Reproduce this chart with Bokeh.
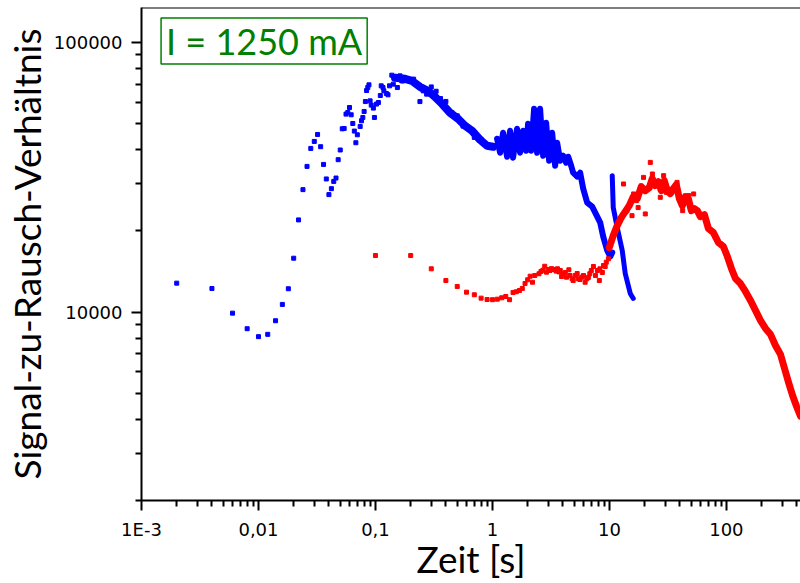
from bokeh.plotting import figure
from bokeh.models import FixedTicker, Span, Label
from bokeh.embed import file_html
from bokeh.resources import INLINE

# ---------------- data (time in s, signal-to-noise ratio) ----------------
# blue series: individual points (early, sparse part)
blue_pts_t = [0.002, 0.004, 0.006, 0.008, 0.010, 0.012, 0.014, 0.016, 0.018, 0.020,
              0.022, 0.024, 0.026, 0.028, 0.030, 0.032, 0.034, 0.036, 0.038, 0.040,
              0.042, 0.044, 0.046, 0.048, 0.050, 0.052, 0.054, 0.056, 0.058, 0.060,
              0.062, 0.064, 0.066, 0.068, 0.070, 0.074, 0.076, 0.078, 0.080, 0.082,
              0.084, 0.086, 0.088, 0.090, 0.092, 0.096, 0.098, 0.102, 0.106, 0.110,
              0.112, 0.116, 0.118, 0.124, 0.128, 0.132, 0.138, 0.142, 0.148, 0.154,
              0.162, 0.168, 0.172, 0.184, 0.196, 0.212, 0.226, 0.240, 0.256, 0.274,
              0.30, 0.33, 0.36, 0.40, 0.45, 0.50, 0.56, 0.62, 0.70, 0.80]
blue_pts_snr = [12810, 12240, 9915, 8680, 8110, 8270, 9290, 10680, 12210, 15850,
                21990, 28480, 34730, 40500, 42990, 45630, 41100, 35320, 31200, 27290,
                28710, 30560, 31450, 36780, 39960, 47880, 48030, 54300, 55050, 57440,
                53980, 50120, 46970, 42510, 45500, 48860, 51290, 52760, 55520, 60440,
                66420, 68130, 69720, 60800, 58630, 57150, 52760, 59140, 59950, 63630,
                69130, 68130, 66250, 64750, 64020, 69130, 75720, 70140, 74820, 68130,
                75280, 72140, 72140, 73190, 72140, 73190, 70140, 60440, 66250, 64400,
                68500, 66000, 62000, 60500, 55000, 53500, 49000, 48500, 44500, 43800]

# blue series: dense part (0.15 s .. 1 s)
blue_band_t = [0.147, 0.179, 0.205, 0.240, 0.281, 0.323, 0.370, 0.434, 0.508,
               0.583, 0.669, 0.783, 0.899, 1.012]
blue_band_snr = [74020, 73390, 72140, 68550, 66250, 62930, 59290, 54910, 52170,
                 49150, 47100, 43610, 41440, 41090]

# blue series: dense oscillating part (1 s .. 10.6 s), upper/lower excursions
blue_osc_t = [1.095, 1.162, 1.233, 1.334, 1.415, 1.501, 1.624, 1.723, 1.828, 1.940,
              2.017, 2.141, 2.271, 2.409, 2.556, 2.713, 2.878, 3.053, 3.239, 3.436,
              3.575, 3.793, 4.024, 4.268, 4.440, 4.710, 4.899, 5.302, 5.623, 5.967,
              6.455, 7.124, 7.864, 8.342, 8.850, 9.576, 10.16, 10.57]
blue_osc_snr = [43990, 39040, 46300, 37730, 47100, 37410, 47910, 39040, 47100, 39710,
                49990, 39710, 56800, 39040, 56800, 38050, 50420, 36470, 46300, 34940,
                42510, 36470, 38050, 35840, 37730, 34940, 32910, 31810, 32910, 28720,
                25490, 24640, 22620, 21490, 19070, 16930, 16080, 16640]

# blue series: second branch (10.6 s .. 16 s)
blue_tail_t = [10.57, 10.78, 11.66, 12.87, 13.65, 15.07, 15.99]
blue_tail_snr = [32090, 24430, 20590, 16930, 13910, 11730, 11240]

# red series: individual points (0.1 s .. 10 s)
red_pts_t = [0.1, 0.2, 0.3, 0.4, 0.5, 0.6, 0.7, 0.8, 0.9, 1.0,
             1.1, 1.2, 1.3, 1.4, 1.5, 1.6, 1.7, 1.8, 1.9, 2.0,
             2.1, 2.2, 2.3, 2.5, 2.6, 2.7, 2.8, 2.9, 3.0, 3.1,
             3.2, 3.3, 3.4, 3.5, 3.6, 3.7, 3.8, 3.9, 4.0, 4.2,
             4.3, 4.5, 4.6, 4.8, 4.9, 5.1, 5.3, 5.4, 5.6, 5.8,
             6.0, 6.2, 6.4, 6.6, 6.8, 7.0, 7.3, 7.6, 7.9, 8.2,
             8.3, 8.7, 8.9, 9.2, 9.4, 9.8]
red_pts_snr = [16220, 16220, 14480, 13100, 12450, 11860, 11600, 11270, 11140, 11120,
               11170, 11300, 11430, 11120, 11830, 11900, 12030, 12240, 12770, 13180,
               13590, 12910, 13670, 13880, 14150, 14300, 14800, 14070, 14400, 14270,
               14500, 14390, 14400, 14200, 14480, 14100, 14270, 13560, 13880, 14030,
               13480, 14360, 13670, 13300, 13100, 13670, 13910, 13300, 13210, 13480,
               13670, 12910, 13300, 13450, 13880, 14270, 14770, 13670, 14270, 13100,
               14480, 14030, 14890, 14770, 15320, 15770]

# red series: scattered points around the maximum
red_scatter_t = [13.2, 14.12, 15.6, 16.1, 17.0, 17.6, 18.5, 19.58, 20.26, 22.36,
                 23.3, 24.67, 27.22, 29.06, 30.6, 37.85, 42.3, 47.6, 52.48]
red_scatter_snr = [29890, 23800, 22800, 27450, 25930, 24430, 28640, 31620, 23140, 35940,
                   32550, 29890, 26670, 32090, 27830, 30300, 23800, 27060, 27450]

# red series: dense part (10 s .. 430 s)
red_band_t = [9.96, 10.78, 11.66, 12.62, 13.65, 14.77, 15.99, 17.30, 18.72, 20.26,
              21.92, 23.25, 24.67, 26.17, 27.77, 29.46, 31.25, 33.16, 35.18, 37.32,
              39.59, 42.01, 44.57, 47.28, 50.15, 53.21, 56.45, 59.89, 64.80, 70.15,
              77.41, 85.43, 94.25, 102.0, 110.4, 119.5, 131.8, 145.5, 160.6, 177.2,
              195.5, 215.8, 238.1, 262.8, 290.0, 313.8, 339.5, 367.4, 397.5, 430.1]
red_band_snr = [17360, 19230, 20950, 22420, 23600, 24850, 26830, 26370, 29220, 28230,
                28970, 31280, 29470, 30490, 28230, 30750, 28230, 27520, 28720, 29720,
                26370, 24850, 26830, 26370, 23800, 24210, 23800, 22620, 23010, 20420,
                19730, 18120, 17520, 16080, 14520, 13330, 12770, 11930, 11050, 10150,
                9317, 8700, 8270, 7523, 6970, 6186, 5490, 4914, 4473, 4108]

# ticks
x_tick_values = [1e-3, 1e-2, 1e-1, 1, 10, 100]
x_tick_labels = ["1E-3", "0,01", "0,1", "1", "10", "100"]
y_tick_values = [1e4, 1e5]
y_tick_labels = ["10000", "100000"]

x_min, x_max = 1e-3, 430
y_min, y_max = 2000, 135000

BLUE = "#0000ff"
RED = "#ff0000"
GREEN = "#008000"

p = figure(width=800, height=583, x_axis_type="log", y_axis_type="log",
           x_range=(x_min, x_max), y_range=(y_min, y_max),
           output_backend="svg", toolbar_location=None,
           min_border_left=133, min_border_right=0, min_border_top=7,
           min_border_bottom=83)
p.grid.visible = False
p.outline_line_color = None
p.background_fill_color = "white"
p.border_fill_color = "white"

# draw data
p.line(blue_band_t, blue_band_snr, line_color=BLUE, line_width=8, line_join="round", line_cap="round")
p.line(blue_osc_t, blue_osc_snr, line_color=BLUE, line_width=6, line_join="round", line_cap="round")
p.line(blue_tail_t, blue_tail_snr, line_color=BLUE, line_width=5, line_join="round", line_cap="round")
p.scatter(blue_pts_t, blue_pts_snr, marker="square", size=4, color=BLUE)

p.line(red_band_t, red_band_snr, line_color=RED, line_width=7, line_join="round", line_cap="round")
p.scatter(red_pts_t, red_pts_snr, marker="square", size=4, color=RED)
p.scatter(red_scatter_t, red_scatter_snr, marker="square", size=4, color=RED)

# axes
minor_x = [k * 10.0 ** e for e in range(-3, 3) for k in range(2, 10)]
minor_y = [k * 10.0 ** e for e in range(3, 6) for k in range(2, 10)]
p.xaxis.ticker = FixedTicker(ticks=x_tick_values, minor_ticks=minor_x)
p.yaxis.ticker = FixedTicker(ticks=y_tick_values, minor_ticks=minor_y)
p.xaxis.major_label_overrides = dict(zip(x_tick_values, x_tick_labels))
p.yaxis.major_label_overrides = dict(zip(y_tick_values, y_tick_labels))

for ax in (p.xaxis[0], p.yaxis[0]):
    ax.axis_line_width = 2
    ax.axis_line_color = "black"
    ax.major_tick_line_width = 2
    ax.minor_tick_line_width = 2
    ax.major_tick_out = 10
    ax.major_tick_in = 0
    ax.minor_tick_out = 6
    ax.minor_tick_in = 0
    ax.major_label_text_font = "DejaVu Sans"
    ax.major_label_text_font_size = "18px"
    ax.major_label_text_color = "black"
    ax.axis_label_text_font = "Lato"
    ax.axis_label_text_font_size = "37px"
    ax.axis_label_text_font_style = "normal"
    ax.axis_label_text_color = "black"

p.xaxis.axis_label = "Zeit [s]"
p.yaxis.axis_label = "Signal-zu-Rausch-Verhältnis"
p.xaxis.major_label_standoff = 8
p.xaxis.axis_label_standoff = -7
p.yaxis.major_label_standoff = 9
p.yaxis.axis_label_standoff = 2

# top frame line
p.add_layout(Span(location=y_max, dimension="width", line_color="black", line_width=2))

# current label
p.add_layout(Label(x=0.00147, y=123450, x_units="data", y_units="data",
                   text="I = 1250 mA", anchor="top_left",
                   text_font="Lato", text_font_size="36px", text_color=GREEN,
                   border_line_color=GREEN, border_line_width=1.5,
                   background_fill_color="white",
                   padding=dict(left=5, right=5, top=1, bottom=1)))

open("out.html", "w").write(file_html(p, INLINE))
